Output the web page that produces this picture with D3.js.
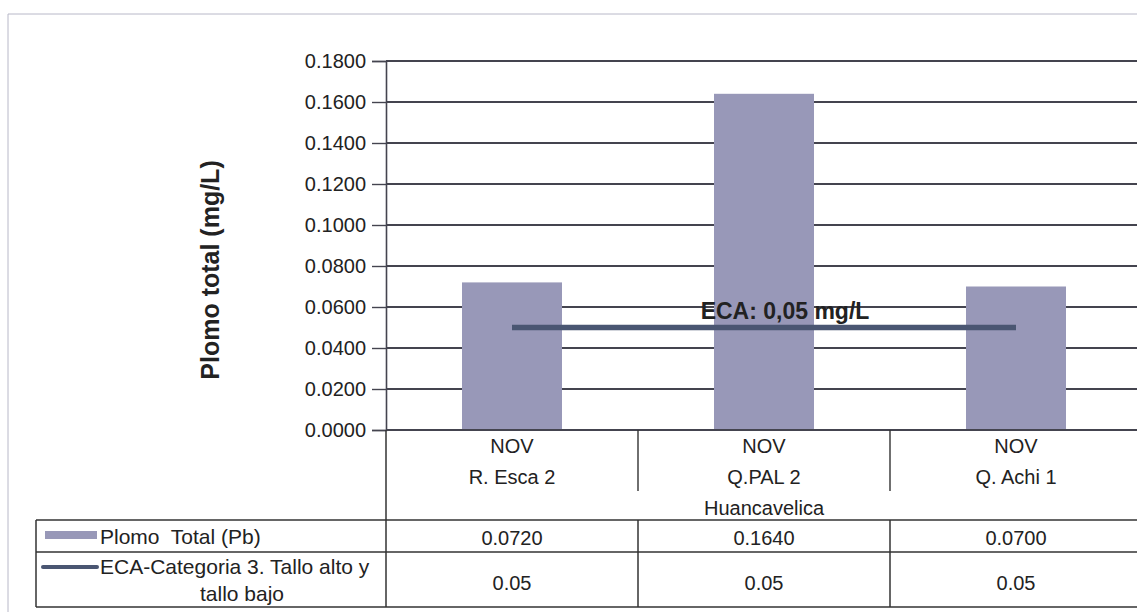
<!DOCTYPE html>
<html><head><meta charset="utf-8">
<script src="https://cdn.jsdelivr.net/npm/d3@7"></script>
<style>body{margin:0;background:#fff}svg{display:block}text{font-family:Arial,"Liberation Sans",sans-serif;fill:#222;white-space:pre}</style>
</head><body><svg id="c" width="1137" height="613"></svg>
<script>
const months = ["NOV","NOV","NOV"];
const stations = ["R. Esca 2","Q.PAL 2","Q. Achi 1"];
const region = "Huancavelica";
const plomo = [0.0720, 0.1640, 0.0700];
const plomoLabels = ["0.0720","0.1640","0.0700"];
const eca = [0.05, 0.05, 0.05];
const ecaLabels = ["0.05","0.05","0.05"];
const yTicks = [0,0.02,0.04,0.06,0.08,0.10,0.12,0.14,0.16,0.18];
const seriesNames = ["Plomo  Total (Pb)", "ECA-Categoria 3. Tallo alto y", "tallo bajo"];
const yTitle = "Plomo total (mg/L)";
const ecaNote = "ECA: 0,05 mg/L";

const svg = d3.select("#c");
const L = 386, R = 1142, T = 61, B = 430;
const x = d3.scaleBand().domain(d3.range(3)).range([L, R]).paddingInner(0).paddingOuter(0);
const y = d3.scaleLinear().domain([0, 0.18]).range([B, T]);
const barW = 100;
const grid = "#44444f";
const barColor = "#9898b8";
const FS = 20;

// outer frame
svg.append("path").attr("d", `M8,612 L8,14 L1137,14`).attr("fill","none").attr("stroke","#b8b8c8").attr("stroke-width",1);

// gridlines
svg.append("g").selectAll("line").data(yTicks.slice(1)).join("line")
  .attr("x1", L).attr("x2", R).attr("y1", d=>y(d)).attr("y2", d=>y(d))
  .attr("stroke", grid).attr("stroke-width", 1.8);

// y axis
const ya = svg.append("g").attr("transform", `translate(${L},0)`)
  .call(d3.axisLeft(y).tickValues(yTicks).tickFormat(d3.format(".4f")).tickSize(14).tickPadding(6));
ya.selectAll("text").attr("font-size", FS).style("fill","#222");
ya.selectAll("line").attr("stroke", grid).attr("stroke-width",1.4);
ya.select(".domain").attr("stroke", grid).attr("stroke-width",1.6);

// bars
svg.append("g").selectAll("rect").data(plomo).join("rect")
  .attr("x", (d,i)=> x(i) + x.bandwidth()/2 - barW/2)
  .attr("width", barW)
  .attr("y", d=>y(d)).attr("height", d=>y(0)-y(d))
  .attr("fill", barColor);

// ECA line
const line = d3.line().x((d,i)=>x(i)+x.bandwidth()/2).y(d=>y(d));
svg.append("path").datum(eca).attr("d", line).attr("fill","none")
  .attr("stroke","#4a5672").attr("stroke-width",5.5);
svg.append("text").attr("x", 785).attr("y", y(0.05)-9).attr("text-anchor","middle")
  .attr("font-size", 23).attr("font-weight","bold").text(ecaNote);

// x axis line
svg.append("line").attr("x1", L).attr("x2", R).attr("y1", B).attr("y2", B).attr("stroke", grid).attr("stroke-width",1.8);

// category separators
svg.append("g").selectAll("line").data([1,2]).join("line")
  .attr("x1", i=>x(i)).attr("x2", i=>x(i)).attr("y1", B).attr("y2", 491)
  .attr("stroke","#333").attr("stroke-width",1.4);

// category labels
svg.append("g").selectAll("text").data(months).join("text")
  .attr("x",(d,i)=>x(i)+x.bandwidth()/2).attr("y",453).attr("text-anchor","middle").attr("font-size",FS).text(d=>d);
svg.append("g").selectAll("text").data(stations).join("text")
  .attr("x",(d,i)=>x(i)+x.bandwidth()/2).attr("y",484).attr("text-anchor","middle").attr("font-size",FS).text(d=>d);
svg.append("text").attr("x", x(1)+x.bandwidth()/2).attr("y",515).attr("text-anchor","middle").attr("font-size",FS).text(region);

// data table
const rowT = 520, rowM = 552, rowB = 607, tabL = 36;
[rowT, rowM, rowB].forEach(yy=>{
  svg.append("line").attr("x1",tabL).attr("x2",R).attr("y1",yy).attr("y2",yy).attr("stroke","#333").attr("stroke-width",1.5);
});
svg.append("line").attr("x1",tabL).attr("x2",tabL).attr("y1",rowT).attr("y2",rowB).attr("stroke","#333").attr("stroke-width",1.5);
svg.append("line").attr("x1",L).attr("x2",L).attr("y1",B).attr("y2",rowB).attr("stroke","#333").attr("stroke-width",1.5);
svg.append("g").selectAll("line").data([1,2]).join("line")
  .attr("x1", i=>x(i)).attr("x2", i=>x(i)).attr("y1", rowT).attr("y2", rowB)
  .attr("stroke","#333").attr("stroke-width",1.5);

svg.append("g").selectAll("text").data(plomoLabels).join("text")
  .attr("x",(d,i)=>x(i)+x.bandwidth()/2).attr("y",545).attr("text-anchor","middle").attr("font-size",FS).text(d=>d);
svg.append("g").selectAll("text").data(ecaLabels).join("text")
  .attr("x",(d,i)=>x(i)+x.bandwidth()/2).attr("y",590).attr("text-anchor","middle").attr("font-size",FS).text(d=>d);

// legend keys
svg.append("rect").attr("x",45).attr("y",531).attr("width",52).attr("height",8).attr("fill",barColor);
svg.append("text").attr("x",100).attr("y",544).attr("font-size",21).text(seriesNames[0]);
svg.append("line").attr("x1",43).attr("x2",97).attr("y1",567).attr("y2",567).attr("stroke","#4a5672").attr("stroke-width",4).attr("stroke-linecap","round");
svg.append("text").attr("x",100).attr("y",574).attr("font-size",21).text(seriesNames[1]);
svg.append("text").attr("x",242).attr("y",601).attr("font-size",21).attr("text-anchor","middle").text(seriesNames[2]);

// y title
svg.append("text").attr("transform","translate(219,270) rotate(-90)").attr("text-anchor","middle")
  .attr("font-size",25).attr("font-weight","bold").text(yTitle);
</script></body></html>
